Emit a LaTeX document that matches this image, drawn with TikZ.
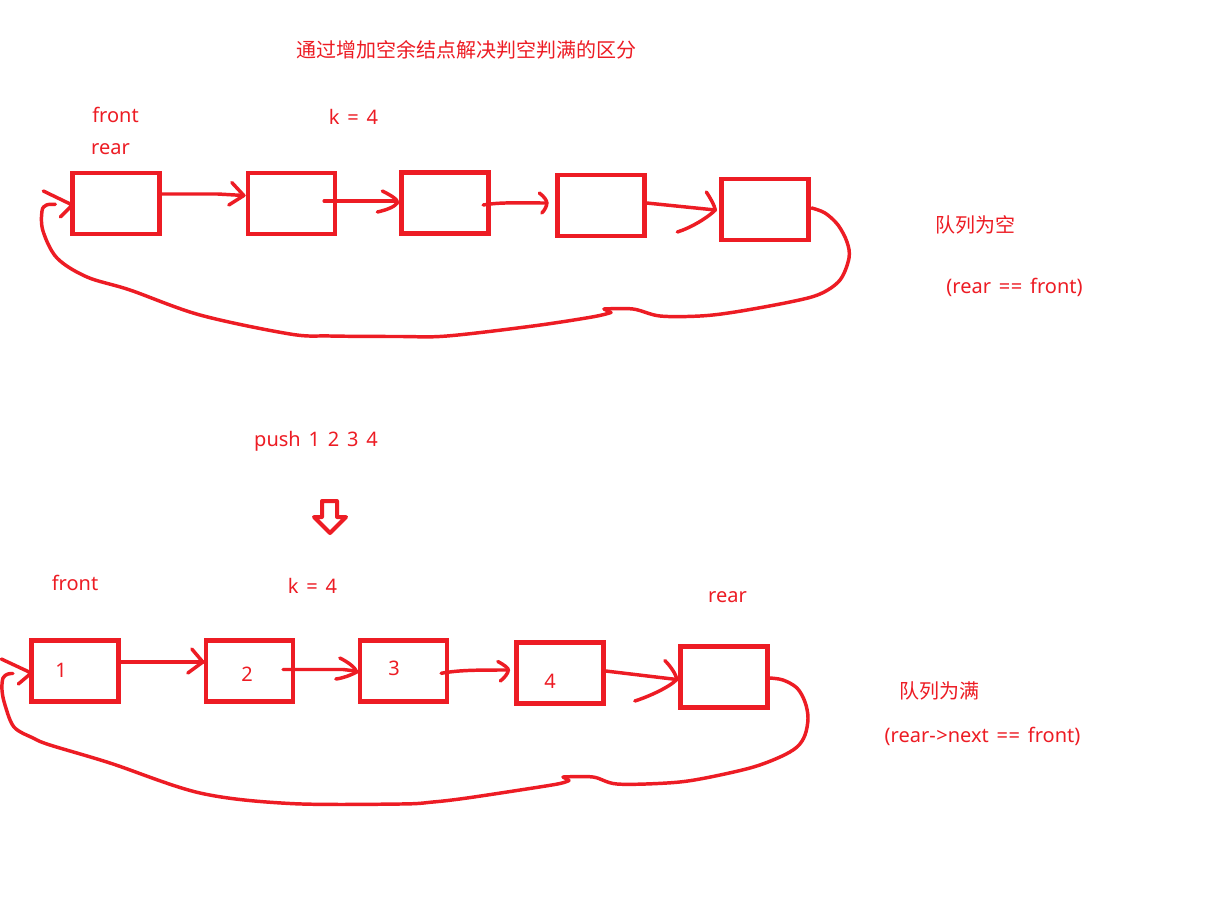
\documentclass[tikz,border=0pt]{standalone}
\usepackage{fontspec}
\setmainfont{Noto Sans}[WordSpace=1.5]
\newfontfamily\cjk{Noto Sans CJK SC}
\usetikzlibrary{calc}
\definecolor{pr}{RGB}{237,28,36}
\begin{document}
\begin{tikzpicture}[x=0.75pt,y=-0.75pt,
  box/.style={draw=pr, line width=3.4pt, minimum width=65.5pt, minimum height=45.5pt, inner sep=0pt, outer sep=0pt},
  conn/.style={draw=pr, line width=2.6pt, line cap=round, line join=round},
  lbl/.style={text=pr, font=\fontsize{15}{18}\selectfont, inner sep=0pt},
  bigarrow/.style={draw=pr, line width=3pt, line join=round}]
\useasboundingbox[fill=white] (0,0) rectangle (1205,899);

% texts
\node[lbl] (title) at (466,50) {\cjk 通过增加空余结点解决判空判满的区分};
\node[lbl] (tfront) at (115.5,115) {front};
\node[lbl] (trear) at (110.5,149) {rear};
\node[lbl] (tk) at (353.5,117) {k = 4};
\node[lbl] (tempty) at (975,225) {\cjk 队列为空};
\node[lbl] (tcond) at (1014.5,287) {(rear =\kern0.5pt= front)};
\node[lbl] (push) at (316,441) {push 1 2 3 4};
\node[lbl] (bfront) at (75,583) {front};
\node[lbl] (bk) at (312.5,586) {k = 4};
\node[lbl] (brear) at (727.5,597) {rear};
\node[lbl] (bfull) at (939,691) {\cjk 队列为满};
\node[lbl] (bcond) at (982.5,736) {(rear-\kern0.5pt>next =\kern0.5pt= front)};

% top boxes
\node[box] (t1) at (116,203.5) {};
\node[box] (t2) at (291.5,203.5) {};
\node[box] (t3) at (445,203) {};
\node[box] (t4) at (601,205.5) {};
\node[box] (t5) at (765,209.5) {};
% bottom boxes
\node[box] (b1) at (75,671) {};
\node[box] (b2) at (249.5,671) {};
\node[box] (b3) at (403.5,671) {};
\node[box] (b4) at (560,673) {};
\node[box] (b5) at (724,677) {};
\node[lbl] (n1) at (61,670) {1};
\node[lbl] (n2) at (247,674) {2};
\node[lbl] (n3) at (394,668) {3};
\node[lbl] (n4) at (550,681) {4};

% ---------- top connectors ----------
\coordinate (h12) at ($(t2.west)+(-4,-8)$);
\draw[conn] ($(t1.east)+(0,-9.5)$) -- ($(t1.east)+(58,-9.5)$) -- (h12);
\draw[conn] ($(h12)+(-12,-13)$) -- (h12) -- ($(h12)+(-15,9.5)$);

\coordinate (h23) at ($(t3.west)+(-4,0)$);
\draw[conn] ($(t2.east)+(-11,-2.5)$) -- ($(h23)+(-1,-2)$);
\draw[conn] ($(h23)+(-15,-12)$) .. controls ($(h23)+(-5,-7)$) and ($(h23)+(1,-3)$) .. (h23)
  .. controls ($(h23)+(-3,4)$) and ($(h23)+(-11,7)$) .. ($(h23)+(-20,9)$);

\coordinate (h34) at ($(t4.west)+(-10.5,-2.5)$);
\draw[conn] ($(t3.east)+(-5.5,2)$) .. controls ($(t3.east)+(12,-1)$) and ($(t3.east)+(30,0)$) .. (h34);
\draw[conn] ($(h34)+(-7.5,-10)$) .. controls ($(h34)+(-2,-6)$) and ($(h34)+(0,-2)$) .. (h34)
  .. controls ($(h34)+(0,3)$) and ($(h34)+(-2,7)$) .. ($(h34)+(-5,10)$);

\coordinate (h45) at ($(t5.west)+(-6,0.5)$);
\draw[conn] ($(t4.east)+(2,-2.5)$) -- (h45);
\draw[conn] ($(h45)+(-9,-18)$) .. controls ($(h45)+(-5,-12)$) and ($(h45)+(-1,-5)$) .. (h45)
  .. controls ($(h45)+(-8,8)$) and ($(h45)+(-25,18)$) .. ($(h45)+(-38,22)$);

\coordinate (ls) at ($(t5.east)+(3,-1.5)$);
\coordinate (le) at ($(t1.west)+(-17,0.8)$);
\draw[conn] plot[smooth, tension=0.55] coordinates {(ls) (825,213) (838,225) (847,242) (849,258) (840,280) (820,294) (790,302) (735,312) (700,316) (660,316) (633,309) (604,309)};
\draw[conn] (604,309) -- (611,312.5);
\draw[conn] plot[smooth, tension=0.55] coordinates {(611,312.5) (592,317) (533,326) (447,336) (400,336.5) (330,336) (290,334) (200,315) (130,290) (87,277) (57,258) (43,231) (42,211) (46.5,205) (le)};
\draw[conn] ($(t1.west)+(-29,-12.5)$) -- ($(t1.west)+(0,1.5)$) -- ($(t1.west)+(-12,13.5)$);

% ---------- down arrow ----------
\draw[bigarrow] (322,501) -- (337,501) -- (337,517) -- (346,517) -- (330,533) -- (314,517) -- (322,517) -- cycle;

% ---------- bottom connectors ----------
\coordinate (g12) at ($(b2.west)+(-3,-9)$);
\draw[conn] ($(b1.east)+(1,-9)$) -- ($(b1.east)+(58,-9)$) -- (g12);
\draw[conn] ($(g12)+(-11,-13)$) -- (g12) -- ($(g12)+(-15,11)$);

\coordinate (g23) at ($(b3.west)+(-3,1)$);
\draw[conn] ($(b2.east)+(-10,-1.5)$) -- ($(b2.east)+(50,-1.5)$) -- ($(g23)+(-1,-1)$);
\draw[conn] ($(g23)+(-17,-14)$) .. controls ($(g23)+(-9,-10)$) and ($(g23)+(-2,-5)$) .. (g23)
  .. controls ($(g23)+(-6,3)$) and ($(g23)+(-13,6)$) .. ($(g23)+(-21,7)$);

\coordinate (g34) at ($(b4.west)+(-8,-3)$);
\draw[conn] ($(b3.east)+(-6,2.3)$) .. controls ($(b3.east)+(12,-1)$) and ($(b3.east)+(30,-1)$) .. (g34);
\draw[conn] ($(g34)+(-10.5,-8.5)$) .. controls ($(g34)+(-4,-5)$) and ($(g34)+(0,-2)$) .. (g34)
  .. controls ($(g34)+(0,3)$) and ($(g34)+(-4,8)$) .. ($(g34)+(-8,11)$);

\coordinate (g45) at ($(b5.west)+(-3.5,2.5)$);
\draw[conn] ($(b4.east)+(2,-2)$) -- (g45);
\draw[conn] ($(g45)+(-12,-19)$) .. controls ($(g45)+(-7,-14)$) and ($(g45)+(-1,-6)$) .. (g45)
  .. controls ($(g45)+(-8,8)$) and ($(g45)+(-28,17)$) .. ($(g45)+(-42,21.5)$);

\coordinate (ms) at ($(b5.east)+(2,1)$);
\coordinate (me) at ($(b1.west)+(-18.5,2.5)$);
\draw[conn] plot[smooth, tension=0.55] coordinates {(ms) (783,680) (797,688) (805,702) (808,718) (805,735) (797,747) (780,757) (750,768) (700,779) (667,783) (617,784) (593,777) (563,777)};
\draw[conn] (563,777) -- (569,780.5);
\draw[conn] plot[smooth, tension=0.55] coordinates {(569,780.5) (560,783.5) (533,788) (467,798) (433,802) (400,804) (290,803.5) (200,793) (110,763) (50,745) (33,738) (14,727) (5,705) (2,690) (3,678) (8,674) (me)};
\draw[conn] ($(b1.west)+(-30,-12)$) -- ($(b1.west)+(0,2)$) -- ($(b1.west)+(-13,13)$);
\end{tikzpicture}
\end{document}
